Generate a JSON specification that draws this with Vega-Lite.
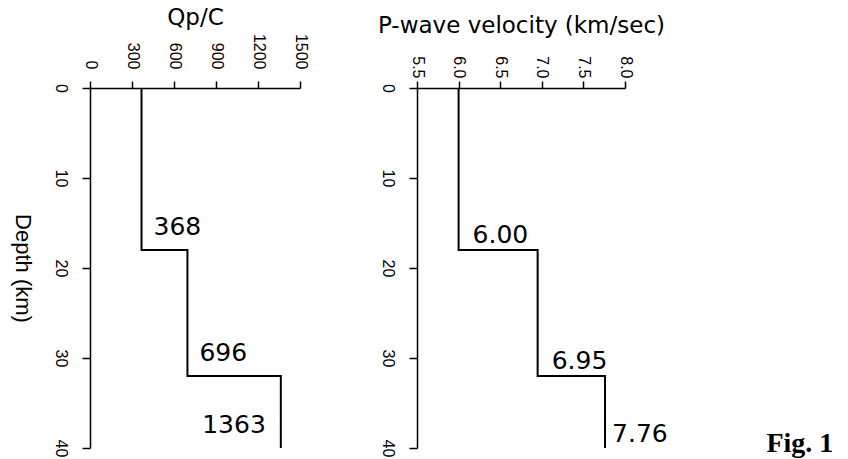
{
  "$schema": "https://vega.github.io/schema/vega-lite/v6.json",
  "background": "white",
  "padding": {"left": 11, "top": 6, "right": 0, "bottom": 0},
  "spacing": 69,
  "config": {
    "view": {"stroke": null},
    "font": "Liberation Sans",
    "axis": {
      "grid": false,
      "domainColor": "black",
      "domainWidth": 1.5,
      "tickColor": "black",
      "tickWidth": 1.5,
      "labelColor": "black",
      "labelFont": "Liberation Sans",
      "labelFlush": false,
      "labelOverlap": false,
      "titleColor": "black",
      "titleFont": "DejaVu Sans",
      "titleFontWeight": "normal"
    }
  },
  "hconcat": [
    {
      "width": 210,
      "height": 360,
      "data": {"values": [
        {"top": 0, "bottom": 18, "qp": 368, "label": "368"},
        {"top": 18, "bottom": 32, "qp": 696, "label": "696"},
        {"top": 32, "bottom": 40, "qp": 1363, "label": "1363"}
      ]},
      "transform": [{"fold": ["top", "bottom"], "as": ["edge", "depth"]}],
      "encoding": {
        "x": {
          "field": "qp", "type": "quantitative",
          "scale": {"domain": [0, 1500], "nice": false, "zero": false},
          "axis": {
            "orient": "top", "title": "Qp/C", "titleFontSize": 23, "titlePadding": 4,
            "values": [0, 300, 600, 900, 1200, 1500], "format": "d",
            "labelAngle": 90, "labelAlign": "right", "labelBaseline": "middle",
            "labelFontSize": 16, "labelPadding": 12, "tickSize": 7
          }
        },
        "y": {
          "field": "depth", "type": "quantitative",
          "scale": {"domain": [0, 40], "reverse": true, "nice": false, "zero": false},
          "axis": {
            "orient": "left", "title": "Depth (km)", "titleFontSize": 22, "titleFont": "Liberation Sans",
            "titleAngle": 90, "titleBaseline": "top", "titlePadding": 20,
            "values": [0, 10, 20, 30, 40], "format": "d",
            "labelAngle": 90, "labelAlign": "center", "labelBaseline": "top",
            "labelFontSize": 16, "labelPadding": 14, "tickSize": 8
          }
        }
      },
      "layer": [
        {
          "mark": {"type": "line", "color": "black", "strokeWidth": 2},
          "encoding": {
            "order": [{"field": "depth", "type": "quantitative"}, {"field": "qp", "type": "quantitative"}]
          }
        },
        {
          "transform": [{"filter": "datum.edge == 'bottom' && datum.bottom < 40"}],
          "mark": {"type": "text", "align": "left", "baseline": "alphabetic", "dx": 12, "dy": -15, "font": "DejaVu Sans", "fontSize": 25, "color": "black"},
          "encoding": {"text": {"field": "label", "type": "nominal"}}
        },
        {
          "transform": [{"filter": "datum.edge == 'bottom' && datum.bottom == 40"}],
          "mark": {"type": "text", "align": "right", "baseline": "alphabetic", "dx": -15, "dy": -15, "font": "DejaVu Sans", "fontSize": 25, "color": "black"},
          "encoding": {"text": {"field": "label", "type": "nominal"}}
        }
      ]
    },
    {
      "width": 208,
      "height": 360,
      "data": {"values": [
        {"top": 0, "bottom": 18, "vp": 6.00, "label": "6.00"},
        {"top": 18, "bottom": 32, "vp": 6.95, "label": "6.95"},
        {"top": 32, "bottom": 40, "vp": 7.76, "label": "7.76"}
      ]},
      "transform": [{"fold": ["top", "bottom"], "as": ["edge", "depth"]}],
      "encoding": {
        "x": {
          "field": "vp", "type": "quantitative",
          "scale": {"domain": [5.5, 8.0], "nice": false, "zero": false},
          "axis": {
            "orient": "top", "title": "P-wave velocity (km/sec)", "titleFontSize": 23, "titlePadding": 18,
            "values": [5.5, 6.0, 6.5, 7.0, 7.5, 8.0], "format": ".1f",
            "labelAngle": 90, "labelAlign": "right", "labelBaseline": "middle",
            "labelFontSize": 16, "labelPadding": 3, "tickSize": 7
          }
        },
        "y": {
          "field": "depth", "type": "quantitative",
          "scale": {"domain": [0, 40], "reverse": true, "nice": false, "zero": false},
          "axis": {
            "orient": "left", "title": null,
            "values": [0, 10, 20, 30, 40], "format": "d",
            "labelAngle": 90, "labelAlign": "center", "labelBaseline": "top",
            "labelFontSize": 16, "labelPadding": 14, "tickSize": 8
          }
        }
      },
      "layer": [
        {
          "mark": {"type": "line", "color": "black", "strokeWidth": 2},
          "encoding": {
            "order": [{"field": "depth", "type": "quantitative"}, {"field": "vp", "type": "quantitative"}]
          }
        },
        {
          "transform": [{"filter": "datum.edge == 'bottom' && datum.bottom < 40"}],
          "mark": {"type": "text", "align": "left", "baseline": "alphabetic", "dx": 14, "dy": -7, "font": "DejaVu Sans", "fontSize": 25, "color": "black"},
          "encoding": {"text": {"field": "label", "type": "nominal"}}
        },
        {
          "transform": [{"filter": "datum.edge == 'bottom' && datum.bottom == 40"}],
          "mark": {"type": "text", "align": "left", "baseline": "alphabetic", "dx": 7, "dy": -6, "font": "DejaVu Sans", "fontSize": 25, "color": "black"},
          "encoding": {"text": {"field": "label", "type": "nominal"}}
        },
        {
          "data": {"values": [{"vp": 9.7, "depth": 40, "note": "Fig. 1"}]},
          "transform": [],
          "mark": {"type": "text", "align": "left", "baseline": "alphabetic", "dy": 4, "font": "Liberation Serif", "fontWeight": "bold", "fontSize": 28, "color": "black"},
          "encoding": {"text": {"field": "note", "type": "nominal"}}
        }
      ]
    }
  ]
}
